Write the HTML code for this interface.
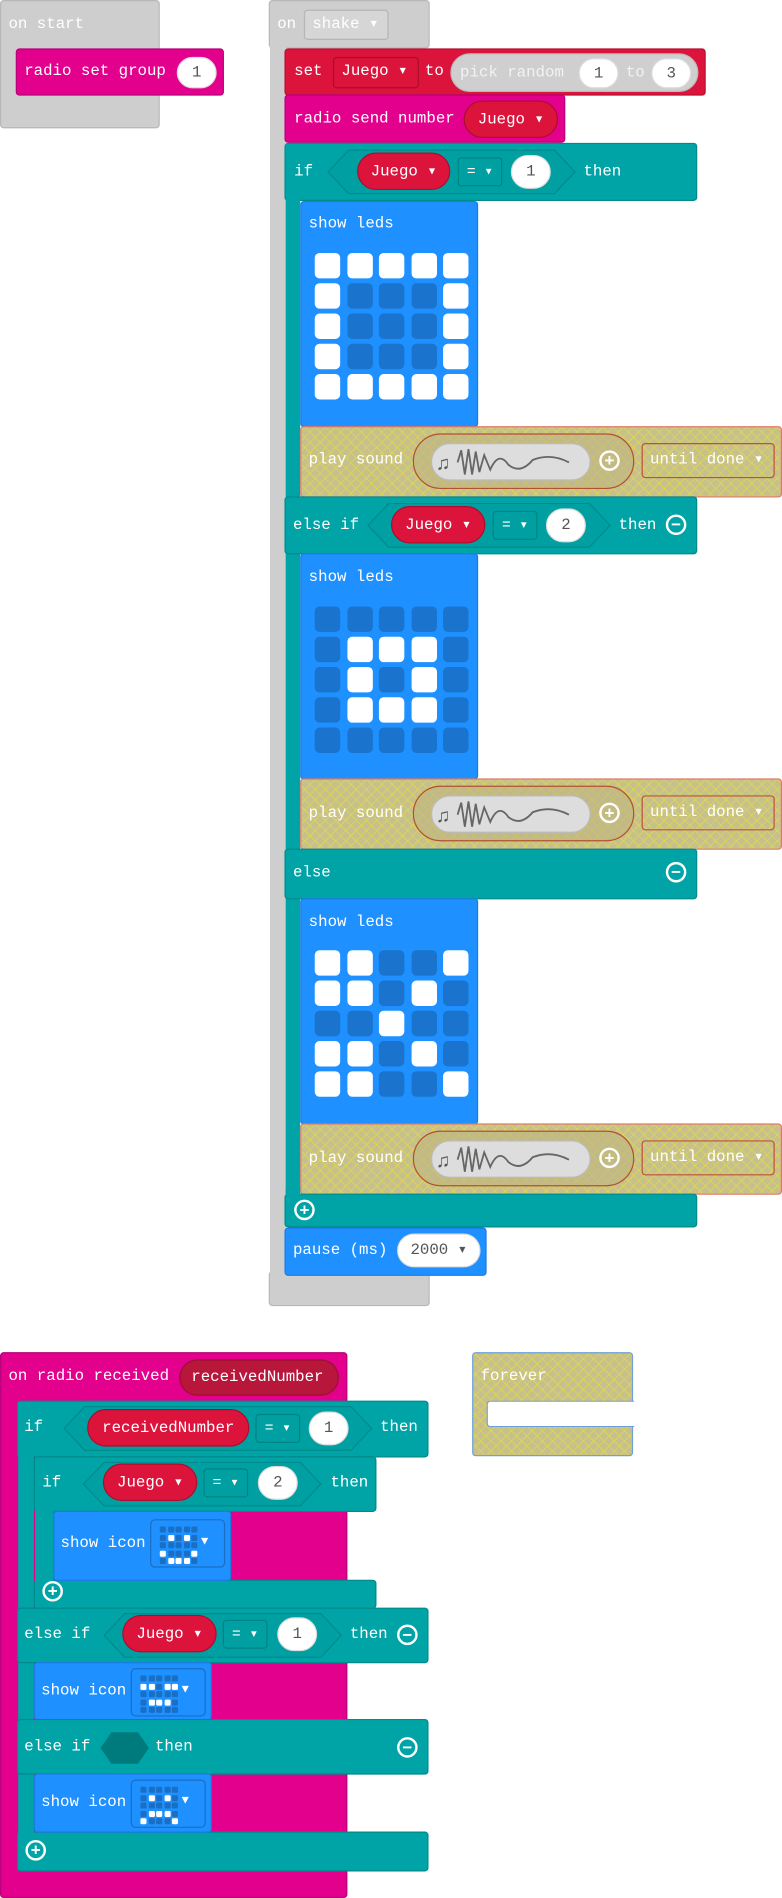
<!DOCTYPE html>
<html><head><meta charset="utf-8"><style>
html,body{margin:0;padding:0;background:#fff;overflow:hidden;width:782px;height:1898px}
#s{position:absolute;left:0;top:0;width:646px;height:1568px;transform:scale(1.21053);transform-origin:0 0}
.b{position:absolute;box-sizing:border-box}
.t{position:absolute;color:#fff;font:13px "Liberation Mono",monospace;white-space:nowrap;transform:translateY(-50%);line-height:16px}
.gray{background:#cecece;border:1px solid #b8b8b8;border-radius:3px}
.red{background:#dc143c;border:1px solid #b5102f;border-radius:3px}
.pink{background:#e3008c;border:1px solid #b8007a;border-radius:3px}
.teal{background:#00a4a6;border:1px solid #008a8c;border-radius:3px}
.blue{background:#1e90ff;border:1px solid #1b7ce0;border-radius:3px}
.sp{border:none!important;border-radius:0!important}
.hatch{border:1px solid #e07a6a;border-radius:3px;background-color:#c6c08e;background-image:repeating-linear-gradient(45deg,rgba(230,220,60,.55) 0 1px,transparent 1px 6px),repeating-linear-gradient(-45deg,rgba(230,220,60,.55) 0 1px,transparent 1px 6px)}
.ov{position:absolute;box-sizing:border-box;background:#fff;border-radius:15px;color:#555;font:13px "Liberation Mono",monospace;text-align:center;border:1px solid #ddd}
.rov{position:absolute;box-sizing:border-box;background:#dc143c;border:1px solid #a80f2e;border-radius:16px;color:#fff;font:13px "Liberation Mono",monospace;text-align:center}
.eq{position:absolute;box-sizing:border-box;border:1px solid #008385;border-radius:3px;color:#fff;font:12px "Liberation Mono",monospace;text-align:center}
.hex{position:absolute;box-sizing:border-box}
.grid{position:absolute;display:grid;grid-template-columns:repeat(5,21px);grid-template-rows:repeat(5,21px);column-gap:5.5px;row-gap:4px}
.grid i{display:block;border-radius:4px;background:#1a73cc}
.grid i.o{background:#fff}
.ig{position:absolute;display:grid;grid-template-columns:repeat(5,5px);grid-template-rows:repeat(5,5px);gap:1.5px}
.ig i{display:block;border-radius:1px;background:#1a6fc4}
.ig i.o{background:#fff}
.ib{position:absolute;box-sizing:border-box;border:1px solid #1a6fc4;border-radius:4px}
.circ{position:absolute;box-sizing:border-box;width:17px;height:17px;border:2px solid #fff;border-radius:50%;color:#fff;font:bold 14px "Liberation Sans",sans-serif;text-align:center;line-height:13px}
.snd{position:absolute;box-sizing:border-box;border:1px solid #b5502f;border-radius:23px;background:rgba(190,180,130,.6)}
.sndi{position:absolute;box-sizing:border-box;background:#ddd;border:1px solid #bbb;border-radius:16px}
.ud{position:absolute;box-sizing:border-box;border:1px solid #c0503a;border-radius:3px}
</style></head><body><div id="s">

<!-- on start -->
<div class="b gray" style="left:0;top:0;width:132px;height:106px"></div>
<div class="t" style="left:7px;top:20px">on start</div>
<div class="b pink" style="left:13px;top:40px;width:172px;height:39px"></div>
<div class="t" style="left:20px;top:59px">radio set group</div>
<div class="ov" style="left:146px;top:47px;width:33px;height:26px;line-height:24px">1</div>

<!-- on shake -->
<div class="b gray" style="left:222px;top:0;width:133px;height:40px"></div>
<div class="b gray" style="left:222px;top:1050px;width:133px;height:29px"></div>
<div class="b gray sp" style="left:223px;top:30px;width:14px;height:1030px"></div>
<div class="t" style="left:229px;top:20px">on</div>
<div class="b" style="left:251px;top:8px;width:70px;height:25px;border:1px solid #b5b5b5;border-radius:3px;background:#d6d6d6"></div>
<div class="t" style="left:258px;top:20px">shake ▾</div>

<div class="b red" style="left:235px;top:40px;width:348px;height:39px"></div>
<div class="t" style="left:243px;top:59px">set</div>
<div class="b" style="left:275px;top:47px;width:71px;height:26px;border:1px solid #a50f2d;border-radius:3px"></div>
<div class="t" style="left:282px;top:59px">Juego ▾</div>
<div class="t" style="left:351px;top:59px">to</div>
<div class="b" style="left:372px;top:44px;width:205px;height:32px;background:#cfcfcf;border:1px solid #bbb;border-radius:16px"></div>
<div class="t" style="left:380px;top:60px;color:#f2f2f2">pick random</div>
<div class="ov" style="left:478px;top:48px;width:33px;height:25px;line-height:23px">1</div>
<div class="t" style="left:517px;top:60px;color:#f2f2f2">to</div>
<div class="ov" style="left:538px;top:48px;width:33px;height:25px;line-height:23px">3</div>

<div class="b pink" style="left:235px;top:78px;width:232px;height:40px"></div>
<div class="t" style="left:243px;top:98px">radio send number</div>
<div class="rov" style="left:383px;top:83px;width:78px;height:31px;line-height:29px">Juego ▾</div>

<!-- if -->
<div class="b teal" style="left:235px;top:118px;width:341px;height:48px"></div>
<div class="b teal sp" style="left:236px;top:119px;width:12px;height:893px"></div>
<div class="t" style="left:243px;top:142px">if</div>
<svg class="hex" style="left:270px;top:123px" width="206" height="38"><polygon points="18,1 188,1 205,19 188,37 18,37 1,19" fill="#00a0a2" stroke="#008a8c"/></svg>
<div class="rov" style="left:295px;top:126px;width:77px;height:31px;line-height:29px">Juego ▾</div>
<div class="eq" style="left:378px;top:130px;width:37px;height:24px;line-height:22px">= ▾</div>
<div class="ov" style="left:422px;top:128px;width:33px;height:28px;line-height:26px">1</div>
<div class="t" style="left:482px;top:142px">then</div>

<div class="b blue" style="left:248px;top:166px;width:147px;height:187px"></div>
<div class="t" style="left:255px;top:185px">show leds</div>
<div class="grid" style="left:260px;top:209px">
<i class="o"></i><i class="o"></i><i class="o"></i><i class="o"></i><i class="o"></i>
<i class="o"></i><i></i><i></i><i></i><i class="o"></i>
<i class="o"></i><i></i><i></i><i></i><i class="o"></i>
<i class="o"></i><i></i><i></i><i></i><i class="o"></i>
<i class="o"></i><i class="o"></i><i class="o"></i><i class="o"></i><i class="o"></i>
</div>

<div class="b hatch" style="left:248px;top:352px;width:398px;height:59px"></div>
<div class="t" style="left:255px;top:380px">play sound</div>
<div class="snd" style="left:341px;top:358px;width:183px;height:46px"></div>
<div class="sndi" style="left:356px;top:366px;width:132px;height:31px"></div>
<svg class="b" style="left:360px;top:368px" width="125" height="27"><text x="0" y="20" font-size="16" fill="#555">♫</text><path d="M18 14 L21 4 L24 24 L27 3 L30 24 L33 5 L36 22 L40 8 L45 20 Q52 4 60 16 Q70 24 80 12 Q95 6 110 14" fill="none" stroke="#666" stroke-width="1.5"/></svg>
<div class="circ" style="left:495px;top:372px">+</div>
<div class="ud" style="left:530px;top:366px;width:110px;height:29px"></div>
<div class="t" style="left:537px;top:380px">until done ▾</div>

<!-- else if -->
<div class="b teal" style="left:235px;top:410px;width:341px;height:48px"></div>
<div class="t" style="left:242px;top:434px">else if</div>
<svg class="hex" style="left:303px;top:415px" width="202" height="38"><polygon points="18,1 184,1 201,19 184,37 18,37 1,19" fill="#00a0a2" stroke="#008a8c"/></svg>
<div class="rov" style="left:323px;top:418px;width:78px;height:31px;line-height:29px">Juego ▾</div>
<div class="eq" style="left:407px;top:422px;width:37px;height:24px;line-height:22px">= ▾</div>
<div class="ov" style="left:451px;top:420px;width:33px;height:28px;line-height:26px">2</div>
<div class="t" style="left:511px;top:434px">then</div>
<div class="circ" style="left:550px;top:425px">−</div>

<div class="b blue" style="left:248px;top:457px;width:147px;height:187px"></div>
<div class="t" style="left:255px;top:477px">show leds</div>
<div class="grid" style="left:260px;top:501px">
<i></i><i></i><i></i><i></i><i></i>
<i></i><i class="o"></i><i class="o"></i><i class="o"></i><i></i>
<i></i><i class="o"></i><i></i><i class="o"></i><i></i>
<i></i><i class="o"></i><i class="o"></i><i class="o"></i><i></i>
<i></i><i></i><i></i><i></i><i></i>
</div>

<div class="b hatch" style="left:248px;top:643px;width:398px;height:59px"></div>
<div class="t" style="left:255px;top:672px">play sound</div>
<div class="snd" style="left:341px;top:649px;width:183px;height:46px"></div>
<div class="sndi" style="left:356px;top:657px;width:132px;height:31px"></div>
<svg class="b" style="left:360px;top:659px" width="125" height="27"><text x="0" y="20" font-size="16" fill="#555">♫</text><path d="M18 14 L21 4 L24 24 L27 3 L30 24 L33 5 L36 22 L40 8 L45 20 Q52 4 60 16 Q70 24 80 12 Q95 6 110 14" fill="none" stroke="#666" stroke-width="1.5"/></svg>
<div class="circ" style="left:495px;top:663px">+</div>
<div class="ud" style="left:530px;top:657px;width:110px;height:29px"></div>
<div class="t" style="left:537px;top:671px">until done ▾</div>

<!-- else -->
<div class="b teal" style="left:235px;top:701px;width:341px;height:42px"></div>
<div class="t" style="left:242px;top:721px">else</div>
<div class="circ" style="left:550px;top:712px">−</div>

<div class="b blue" style="left:248px;top:742px;width:147px;height:187px"></div>
<div class="t" style="left:255px;top:762px">show leds</div>
<div class="grid" style="left:260px;top:785px">
<i class="o"></i><i class="o"></i><i></i><i></i><i class="o"></i>
<i class="o"></i><i class="o"></i><i></i><i class="o"></i><i></i>
<i></i><i></i><i class="o"></i><i></i><i></i>
<i class="o"></i><i class="o"></i><i></i><i class="o"></i><i></i>
<i class="o"></i><i class="o"></i><i></i><i></i><i class="o"></i>
</div>

<div class="b hatch" style="left:248px;top:928px;width:398px;height:59px"></div>
<div class="t" style="left:255px;top:957px">play sound</div>
<div class="snd" style="left:341px;top:934px;width:183px;height:46px"></div>
<div class="sndi" style="left:356px;top:942px;width:132px;height:31px"></div>
<svg class="b" style="left:360px;top:944px" width="125" height="27"><text x="0" y="20" font-size="16" fill="#555">♫</text><path d="M18 14 L21 4 L24 24 L27 3 L30 24 L33 5 L36 22 L40 8 L45 20 Q52 4 60 16 Q70 24 80 12 Q95 6 110 14" fill="none" stroke="#666" stroke-width="1.5"/></svg>
<div class="circ" style="left:495px;top:948px">+</div>
<div class="ud" style="left:530px;top:942px;width:110px;height:29px"></div>
<div class="t" style="left:537px;top:956px">until done ▾</div>

<div class="b teal" style="left:235px;top:986px;width:341px;height:28px"></div>
<div class="b teal sp" style="left:236px;top:980px;width:12px;height:10px"></div>
<div class="circ" style="left:243px;top:991px">+</div>

<div class="b blue" style="left:235px;top:1014px;width:167px;height:40px"></div>
<div class="t" style="left:242px;top:1033px">pause (ms)</div>
<div class="ov" style="left:328px;top:1019px;width:69px;height:28px;line-height:26px">2000 ▾</div>

<!-- on radio received -->
<div class="b pink" style="left:0;top:1117px;width:287px;height:451px;border-radius:3px"></div>
<div class="t" style="left:7px;top:1137px">on radio received</div>
<div class="b" style="left:148px;top:1123px;width:132px;height:30px;background:#b8163a;border:1px solid #9a1030;border-radius:15px"></div>
<div class="t" style="left:158px;top:1138px">receivedNumber</div>

<div class="b teal" style="left:14px;top:1157px;width:340px;height:47px"></div>
<div class="b teal" style="left:14px;top:1513px;width:340px;height:33px"></div>
<div class="b teal sp" style="left:15px;top:1158px;width:13px;height:387px"></div>
<div class="t" style="left:20px;top:1179px">if</div>
<svg class="hex" style="left:52px;top:1161px" width="256" height="38"><polygon points="18,1 238,1 255,19 238,37 18,37 1,19" fill="#00a0a2" stroke="#008a8c"/></svg>
<div class="rov" style="left:72px;top:1164px;width:134px;height:31px;line-height:29px">receivedNumber</div>
<div class="eq" style="left:211px;top:1168px;width:37px;height:24px;line-height:22px">= ▾</div>
<div class="ov" style="left:255px;top:1166px;width:33px;height:28px;line-height:26px">1</div>
<div class="t" style="left:314px;top:1179px">then</div>

<div class="b teal" style="left:28px;top:1203px;width:283px;height:46px"></div>
<div class="b teal" style="left:28px;top:1305px;width:283px;height:24px"></div>
<div class="b teal sp" style="left:29px;top:1204px;width:15px;height:124px"></div>
<div class="t" style="left:35px;top:1225px">if</div>
<svg class="hex" style="left:68px;top:1207px" width="198" height="38"><polygon points="18,1 180,1 197,19 180,37 18,37 1,19" fill="#00a0a2" stroke="#008a8c"/></svg>
<div class="rov" style="left:85px;top:1209px;width:78px;height:31px;line-height:29px">Juego ▾</div>
<div class="eq" style="left:168px;top:1213px;width:37px;height:24px;line-height:22px">= ▾</div>
<div class="ov" style="left:213px;top:1211px;width:33px;height:28px;line-height:26px">2</div>
<div class="t" style="left:273px;top:1225px">then</div>

<div class="b blue" style="left:44px;top:1248px;width:147px;height:58px"></div>
<div class="t" style="left:50px;top:1275px">show icon</div>
<div class="ib" style="left:124px;top:1255px;width:62px;height:40px"></div>
<div class="ig" style="left:132px;top:1261px">
<i></i><i></i><i></i><i></i><i></i>
<i></i><i class="o"></i><i></i><i class="o"></i><i></i>
<i></i><i></i><i></i><i></i><i></i>
<i class="o"></i><i></i><i></i><i></i><i class="o"></i>
<i></i><i class="o"></i><i class="o"></i><i class="o"></i><i></i>
</div>
<div class="t" style="left:166px;top:1275px;font-size:10px">▼</div>

<div class="circ" style="left:35px;top:1306px">+</div>

<div class="b teal" style="left:14px;top:1328px;width:340px;height:46px"></div>
<div class="t" style="left:20px;top:1350px">else if</div>
<svg class="hex" style="left:85px;top:1332px" width="198" height="38"><polygon points="18,1 180,1 197,19 180,37 18,37 1,19" fill="#00a0a2" stroke="#008a8c"/></svg>
<div class="rov" style="left:101px;top:1334px;width:78px;height:31px;line-height:29px">Juego ▾</div>
<div class="eq" style="left:184px;top:1338px;width:37px;height:24px;line-height:22px">= ▾</div>
<div class="ov" style="left:229px;top:1336px;width:33px;height:28px;line-height:26px">1</div>
<div class="t" style="left:289px;top:1350px">then</div>
<div class="circ" style="left:328px;top:1342px">−</div>

<div class="b blue" style="left:28px;top:1373px;width:147px;height:48px"></div>
<div class="t" style="left:34px;top:1397px">show icon</div>
<div class="ib" style="left:108px;top:1378px;width:62px;height:40px"></div>
<div class="ig" style="left:116px;top:1384px">
<i></i><i></i><i></i><i></i><i></i>
<i class="o"></i><i class="o"></i><i></i><i class="o"></i><i class="o"></i>
<i></i><i></i><i></i><i></i><i></i>
<i></i><i class="o"></i><i class="o"></i><i class="o"></i><i></i>
<i></i><i></i><i></i><i></i><i></i>
</div>
<div class="t" style="left:150px;top:1397px;font-size:10px">▼</div>

<div class="b teal" style="left:14px;top:1420px;width:340px;height:46px"></div>
<div class="t" style="left:20px;top:1443px">else if</div>
<svg class="hex" style="left:82px;top:1430px" width="42" height="28"><polygon points="10,1 32,1 41,14 32,27 10,27 1,14" fill="#007b7d"/></svg>
<div class="t" style="left:128px;top:1443px">then</div>
<div class="circ" style="left:328px;top:1435px">−</div>

<div class="b blue" style="left:28px;top:1465px;width:147px;height:49px"></div>
<div class="t" style="left:34px;top:1489px">show icon</div>
<div class="ib" style="left:108px;top:1470px;width:62px;height:40px"></div>
<div class="ig" style="left:116px;top:1476px">
<i></i><i></i><i></i><i></i><i></i>
<i></i><i class="o"></i><i></i><i class="o"></i><i></i>
<i></i><i></i><i></i><i></i><i></i>
<i></i><i class="o"></i><i class="o"></i><i class="o"></i><i></i>
<i class="o"></i><i></i><i></i><i></i><i class="o"></i>
</div>
<div class="t" style="left:150px;top:1489px;font-size:10px">▼</div>

<div class="circ" style="left:21px;top:1520px">+</div>

<!-- forever -->
<div class="b hatch" style="left:390px;top:1117px;width:133px;height:86px;border:1px solid #6fa0d8"></div>
<div class="b" style="left:402px;top:1157px;width:122px;height:22px;background:#fff;border-top:1px solid #6fa0d8;border-bottom:1px solid #6fa0d8;border-left:1px solid #6fa0d8;border-radius:3px 0 0 3px"></div>
<div class="t" style="left:397px;top:1137px">forever</div>

</div></body></html>
